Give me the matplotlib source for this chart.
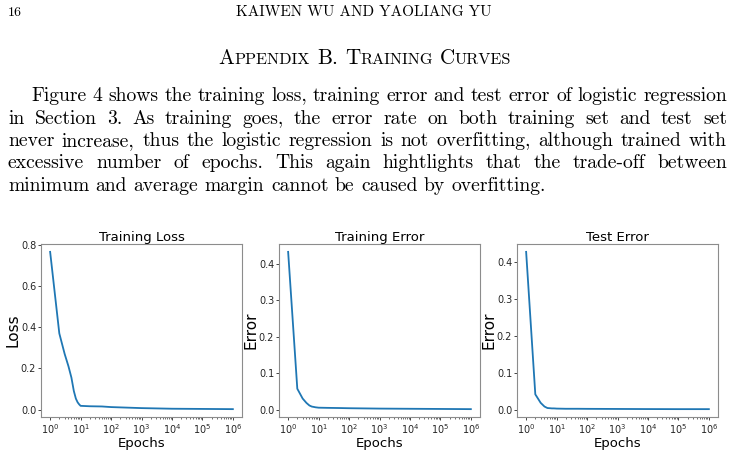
import matplotlib
matplotlib.use('Agg')
import matplotlib.pyplot as plt
from matplotlib.ticker import FixedLocator, LogFormatterSciNotation

# Datos (curvas de entrenamiento, regresión logística)
epocas = [1, 2, 3, 4, 5, 6, 7, 8, 9, 10, 20, 50, 100, 1e3, 1e4, 1e5, 1e6]
perdida = [0.766, 0.37, 0.27, 0.21, 0.155, 0.09, 0.053, 0.035, 0.025, 0.018,
           0.016, 0.015, 0.012, 0.007, 0.004, 0.003, 0.002]
error_train = [0.433, 0.057, 0.03, 0.018, 0.011, 0.008, 0.007, 0.006, 0.0055, 0.005,
               0.0045, 0.004, 0.0035, 0.0025, 0.002, 0.0015, 0.001]
error_test = [0.427, 0.042, 0.019, 0.009, 0.005, 0.0045, 0.004, 0.004, 0.0038, 0.0035,
              0.003, 0.003, 0.0028, 0.0025, 0.0022, 0.002, 0.002]

titulos = ['Training Loss', 'Training Error', 'Test Error']
etiquetas_y = ['Loss', 'Error', 'Error']
ticks_x = [1, 10, 100, 1e3, 1e4, 1e5, 1e6]

encabezado = 'KAIWEN WU AND YAOLIANG YU'
lineas = [
    'Figure 4 shows the training loss, training error and test error of logistic regression',
    'in Section 3.  As training goes, the error rate on both training set and test set',
    'never increase, thus the logistic regression is not overfitting, although trained with',
    'excessive number of epochs.  This again hightlights that the trade-off between',
    'minimum and average margin cannot be caused by overfitting.',
]

W, H = 729, 458
fig = plt.figure(figsize=(W / 100, H / 100), dpi=100)
renderer = fig.canvas.get_renderer()


def texto(x, y, s, size, **kw):
    # posiciones en píxeles desde arriba a la izquierda
    return fig.text(x / W, 1 - y / H, s, fontsize=size, family='cmr10',
                    va='baseline', **kw)


def ancho(t):
    return t.get_window_extent(renderer).width


# Encabezado de página
texto(8, 16, '16', 10)
texto(364, 16, encabezado, 11, ha='center')

# Título en versalitas simuladas
grande, chica = 15.2, 11.7
palabras_titulo = [[('A', grande), ('PPENDIX', chica)],
                   [('B.', grande)],
                   [('T', grande), ('RAINING', chica)],
                   [('C', grande), ('URVES', chica)]]
hueco = 7
piezas = []
for palabra in palabras_titulo:
    piezas.append([texto(0, 64, s, tam) for s, tam in palabra])
total = sum(ancho(t) for p in piezas for t in p) + hueco * (len(piezas) - 1)
x = 365 - total / 2
for p in piezas:
    for t in p:
        t.set_x(x / W)
        x += ancho(t)
    x += hueco

# Párrafo justificado
tam_cuerpo = 14.1
t_aa = texto(0, 300, 'aa', tam_cuerpo)
t_a_a = texto(0, 300, 'a a', tam_cuerpo)
espacio = ancho(t_a_a) - ancho(t_aa)
t_aa.remove()
t_a_a.remove()

bases = [101, 123.5, 146, 168.5, 191]
for i, (linea, yb) in enumerate(zip(lineas, bases)):
    x0 = 31 if i == 0 else 8
    x1 = 727
    ts = [texto(0, yb, w, tam_cuerpo) for w in linea.split()]
    anchos = [ancho(t) for t in ts]
    if i == len(lineas) - 1:
        gap = espacio
    else:
        gap = (x1 - x0 - sum(anchos)) / (len(ts) - 1)
    x = x0
    for t, a in zip(ts, anchos):
        t.set_x(x / W)
        x += a + gap

# Los tres paneles
minor = [m * 10 ** k for k in range(0, 6) for m in range(2, 10)]
izquierdas = [41, 279, 517]
for titulo, ylab, valores, x0 in zip(titulos, etiquetas_y,
                                     [perdida, error_train, error_test], izquierdas):
    ax = fig.add_axes([x0 / W, (H - 417) / H, 201 / W, 173 / H])
    ax.plot(epocas, valores, color='#1f77b4', lw=1.3)
    ax.set_xscale('log')
    ax.xaxis.set_major_locator(FixedLocator(ticks_x))
    ax.xaxis.set_major_formatter(LogFormatterSciNotation())
    ax.xaxis.set_minor_locator(FixedLocator(minor))
    ax.set_title(titulo, fontsize=9.5, pad=2)
    ax.set_xlabel('Epochs', fontsize=9.5, labelpad=1)
    ax.set_ylabel(ylab, fontsize=11, labelpad=0.5)
    ax.tick_params(labelsize=7, length=2, width=0.6, pad=1.5, colors='0.15')
    ax.tick_params(which='minor', length=1.2, width=0.4)
    for sp in ax.spines.values():
        sp.set_color('0.55')
        sp.set_linewidth(0.8)

fig.savefig('out.png', dpi=100)
